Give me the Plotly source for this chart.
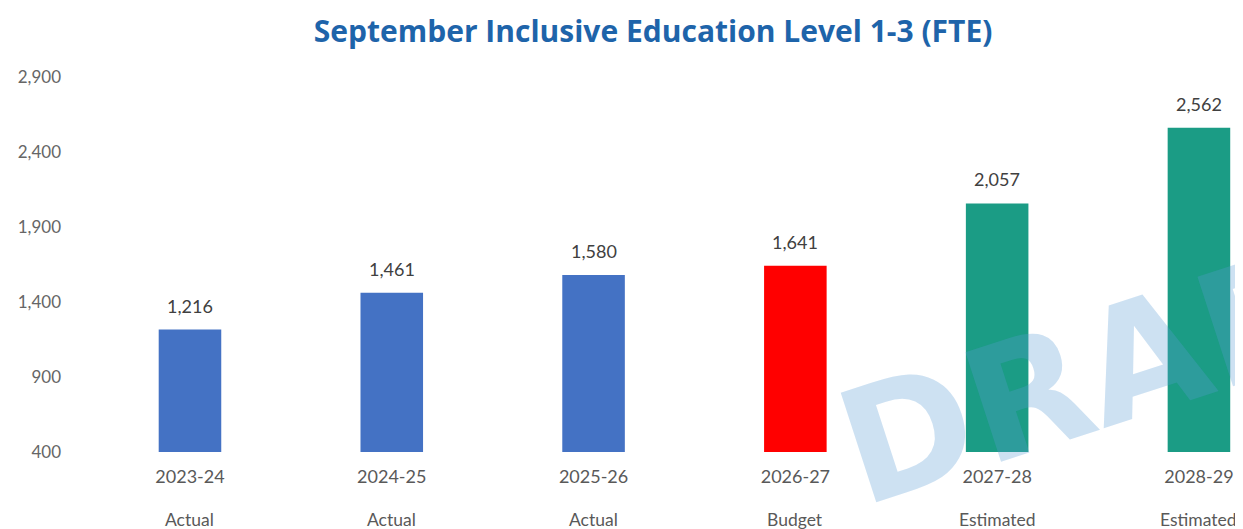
import plotly.graph_objects as go

years = ["2023-24", "2024-25", "2025-26", "2026-27", "2027-28", "2028-29"]
kinds = ["Actual", "Actual", "Actual", "Budget", "Estimated", "Estimated"]
values = [1216, 1461, 1580, 1641, 2057, 2562]
colors = ["#4472C4", "#4472C4", "#4472C4", "#FF0000", "#1B9C85", "#1B9C85"]
y_ticks = [400, 900, 1400, 1900, 2400, 2900]

xs = list(range(len(years)))

fig = go.Figure()
fig.add_trace(go.Bar(
    x=xs,
    y=values,
    marker=dict(color=colors, line=dict(width=0)),
    width=0.31,
    hoverinfo="x+y",
))

annotations = []
# value labels above bars
for i, v in zip(xs, values):
    annotations.append(dict(
        x=i, y=v, xref="x", yref="y",
        text=f"{v:,}", showarrow=False,
        xanchor="center", yanchor="middle", yshift=24,
        font=dict(family="Lato", size=18, color="#404040"),
    ))
# second row of category labels
for i, k in zip(xs, kinds):
    annotations.append(dict(
        x=i, y=-0.181, xref="x", yref="paper",
        text=k, showarrow=False,
        xanchor="center", yanchor="middle",
        font=dict(family="Lato", size=17.5, color="#595959"),
    ))
# watermark
annotations.append(dict(
    text="<b>DRAFT</b>",
    xref="paper", yref="paper", x=0.894, y=0.237,
    xanchor="center", yanchor="middle",
    textangle=-18, showarrow=False,
    font=dict(family="DejaVu Sans", size=158, color="rgba(91,155,213,0.3)"),
))

fig.update_layout(
    width=1243, height=529,
    paper_bgcolor="white", plot_bgcolor="white",
    margin=dict(l=72, r=0, t=69, b=85),
    showlegend=False,
    title=dict(
        text="<b>September Inclusive Education Level 1-3 (FTE)</b>",
        x=0.519, xanchor="center", y=0.955, yanchor="middle",
        font=dict(family="Open Sans", size=30, color="#1E64AA"),
    ),
    xaxis=dict(
        range=[-0.545, 5.258],
        tickmode="array",
        tickvals=xs,
        ticktext=years,
        tickfont=dict(family="Lato", size=18, color="#595959"),
        showgrid=False, zeroline=False, showline=False, ticks="",
        ticklabelstandoff=12,
    ),
    yaxis=dict(
        range=[400, 2900],
        tickmode="array",
        tickvals=y_ticks,
        tickformat=",",
        tickfont=dict(family="Lato", size=17, color="#666666"),
        showgrid=False, zeroline=False, showline=False, ticks="",
        ticklabelstandoff=18,
    ),
    annotations=annotations,
)

fig.write_html("out.html")
